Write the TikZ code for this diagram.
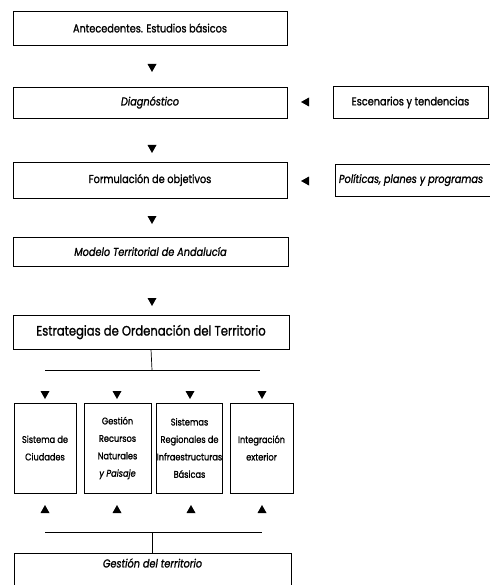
\documentclass[tikz,border=0pt]{standalone}
\usepackage{fontspec}
\setmainfont{Poppins}[FakeStretch=0.85, FakeBold=1.2]
\begin{document}
\begin{tikzpicture}[x=1bp,y=-1bp,
  box/.style={draw=black, line width=0.7pt, inner sep=0pt, align=center},
  mainbox/.style={box, minimum width=274bp, minimum height=34bp, font=\fontsize{11.5}{13}\selectfont},
  sidebox/.style={box, minimum height=32bp, font=\fontsize{11.5}{13}\selectfont},
  smallbox/.style={box, minimum height=90bp, font=\fontsize{9.7}{17.5}\selectfont},
  conn/.style={draw=black, line width=0.7pt},
  pics/tdown/.style={code={\fill (-4.5,-4) -- (4.5,-4) -- (0,4) -- cycle;}},
  pics/tup/.style={code={\fill (-4.5,4) -- (4.5,4) -- (0,-4) -- cycle;}},
  pics/tleft/.style={code={\fill (4,-4.5) -- (4,4.5) -- (-4,0) -- cycle;}}]
\clip (0,0) rectangle (490,585);
\fill[white] (0,0) rectangle (490,585);
% main column
\node[mainbox] (ante) at (150,28) {Antecedentes. Estudios básicos};
\node[mainbox, minimum height=31bp, font=\fontsize{11.5}{13}\itshape] (diag) at (150,102.5) {Diagnóstico};
\node[mainbox, minimum height=36bp] (form) at (150,180) {Formulación de objetivos};
\node[mainbox, minimum width=275bp, minimum height=29bp, font=\fontsize{11.5}{13}\itshape] (mode) at (150.5,251.5) {Modelo Territorial de Andalucía};
\node[mainbox, minimum width=276bp, font=\fontsize{13.7}{15}\selectfont] (estr) at (151,332) {Estrategias de Ordenación del Territorio};
% side boxes
\node[sidebox, minimum width=155bp] (esce) at (410.5,102.5) {Escenarios y tendencias};
\node[sidebox, minimum width=160bp, font=\fontsize{11.5}{13}\itshape] (poli) at (415,180) {\hspace*{-8bp}Políticas, planes y programas};
% small boxes
\node[smallbox, minimum width=62bp] (sist) at (45,448) {Sistema de\\Ciudades};
\node[smallbox, minimum width=67bp] (gest) at (117.5,448) {Gestión\\Recursos\\Naturales\\\textit{y Paisaje}};
\node[smallbox, minimum width=65bp] (sreg) at (189.5,448) {Sistemas\\Regionales de\\Infraestructuras\\Básicas};
\node[smallbox, minimum width=63bp] (inte) at (261.5,448) {Integración\\exterior};
% bottom box (open at the bottom edge)
\node[inner sep=0pt, font=\fontsize{11.5}{13}\itshape] (terr) at (152.5,563) {Gestión del territorio};
\coordinate (tl) at (14,553);
\coordinate (tr) at (291,553);
\draw[conn] (14,600) -- (tl) -- (tr) -- (291,600);
% arrows of the main column
\pic at (152,68) {tdown};
\pic at (152,149) {tdown};
\pic at (152,220) {tdown};
\pic at (152,302) {tdown};
\pic at (305,102) {tleft};
\pic at (305,181) {tleft};
% branching
\coordinate (b1) at (152,370);
\coordinate (bl) at (45,370);
\coordinate (br) at (260,370);
\draw[conn] (estr.south) -- (b1);
\draw[conn] (bl) -- (br);
\pic at (45,395) {tdown};
\pic at (117,395) {tdown};
\pic at (190,395) {tdown};
\pic at (262,395) {tdown};
\pic at (45,509) {tup};
\pic at (117,509) {tup};
\pic at (191,509) {tup};
\pic at (262,509) {tup};
\coordinate (c1) at (152,532);
\coordinate (cl) at (45,532);
\coordinate (cr) at (262,532);
\draw[conn] (cl) -- (cr);
\draw[conn] (c1) -- (152,553);
\end{tikzpicture}
\end{document}
